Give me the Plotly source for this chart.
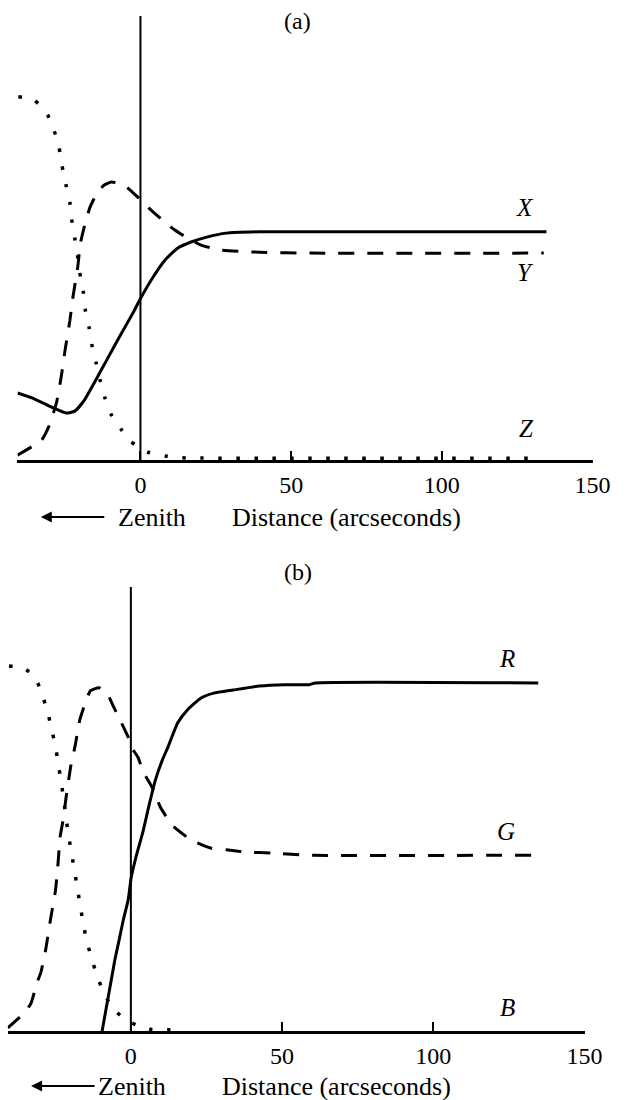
import plotly.graph_objects as go

W, H = 630, 1100

# ---------------- Panel (a) data ----------------
a_x_x = [-40.8, -36.0, -29.5, -24.7, -21.8, -18.6, -15.4, -11.2, -7.0, -2.5, 0.1, 4.0, 8.1, 12.3, 16.8, 22.0, 28.4, 39.4, 56.5, 134.7]
a_x_y = [15.1, 14.0, 11.9, 10.6, 11.0, 13.5, 17.3, 22.5, 27.7, 33.1, 36.5, 41.0, 45.0, 47.7, 49.1, 50.2, 51.1, 51.4, 51.4, 51.4]

a_y_x = [-40.8, -32.8, -30.5, -27.9, -26.3, -25.0, -23.4, -22.4, -20.8, -19.9, -18.3, -16.7, -14.4, -12.1, -9.6, -5.4, -0.9, 2.7, 7.2, 11.4, 15.6, 20.1, 26.5, 39.4, 56.5, 133.8]
a_y_y = [1.1, 4.5, 7.4, 12.8, 18.7, 24.8, 31.5, 36.7, 43.5, 48.9, 53.4, 57.0, 60.1, 61.9, 62.6, 61.9, 59.2, 56.8, 54.1, 51.8, 50.0, 48.4, 47.3, 46.8, 46.6, 46.6]

a_z_x = [-40.5, -35.3, -30.8, -28.6, -27.0, -26.0, -24.7, -23.4, -22.8, -21.8, -20.8, -19.9, -18.9, -18.3, -17.0, -16.0, -14.7, -13.4, -11.8, -9.6, -6.3, -3.1, 2.4, 8.2, 13.9, 50.0, 129.9]
a_z_y = [81.8, 81.1, 77.7, 74.1, 70.3, 66.2, 61.9, 57.9, 54.1, 50.0, 45.7, 41.2, 37.6, 33.8, 29.7, 25.5, 21.8, 18.0, 14.0, 10.1, 6.8, 4.1, 1.8, 0.9, 0.5, 0.4, 0.4]

# ---------------- Panel (b) data ----------------
b_r_x = [-9.5, -5.3, -4.1, -2.5, -0.9, 0.1, 1.7, 3.9, 5.9, 8.1, 10.4, 12.3, 15.5, 18.7, 23.2, 27.4, 33.8, 42.5, 50.9, 59.0, 61.0, 134.7]
b_r_y = [0.0, 16.0, 19.8, 25.0, 29.5, 34.5, 39.2, 44.6, 50.5, 56.5, 61.0, 64.0, 69.4, 72.3, 75.0, 76.1, 76.8, 77.7, 78.0, 78.0, 78.4, 78.4]

b_g_x = [-40.7, -35.2, -33.0, -31.1, -29.8, -28.2, -26.6, -24.9, -24.0, -23.4, -22.4, -21.4, -19.8, -18.5, -16.9, -15.3, -13.4, -10.5, -7.9, -5.7, -3.1, -0.9, 0.1, 2.3, 4.3, 7.2, 9.7, 13.6, 20.0, 26.4, 31.6, 38.0, 46.7, 58.6, 133.4]
b_g_y = [0.7, 4.1, 6.3, 10.8, 13.1, 18.2, 25.0, 31.8, 38.5, 43.7, 47.5, 52.7, 59.9, 64.0, 70.0, 73.4, 76.6, 77.3, 76.1, 73.0, 69.4, 66.2, 64.0, 61.7, 58.1, 54.7, 50.5, 46.4, 43.0, 41.2, 40.8, 40.3, 40.1, 39.6, 39.6]

b_b_x = [-40.3, -35.6, -31.7, -29.5, -27.5, -26.2, -24.9, -24.0, -23.0, -22.1, -21.4, -20.5, -19.5, -18.5, -17.6, -16.6, -15.6, -14.4, -12.8, -11.1, -8.9, -6.3, -2.5, 1.7, 6.2, 13.0, 17.8]
b_b_y = [82.2, 81.8, 79.7, 76.1, 71.8, 68.0, 64.0, 60.1, 55.9, 51.6, 47.7, 43.7, 39.6, 35.6, 31.8, 27.7, 23.6, 19.8, 16.0, 12.2, 8.6, 5.4, 2.9, 1.4, 0.4, 0.3, 0.3]

tick_vals = [0, 50, 100, 150]
tick_text = ["0", "50", "100", "150"]
labels_a = ["X", "Y", "Z"]
labels_a_pos = [(127.6, 56.8), (127.6, 42.3), (128.2, 7.2)]
labels_b = ["R", "G", "B"]
labels_b_pos = [(124.4, 84.0), (124.1, 45.0), (124.4, 5.4)]

SERIF = "Liberation Serif"
DASH = "16px,13px"
DOT = "3.5px,14.5px"

fig = go.Figure()

def add(x, y, dash, xa, ya, w=3):
    fig.add_trace(go.Scatter(x=x, y=y, mode="lines", xaxis=xa, yaxis=ya,
                             line=dict(color="black", width=w, dash=dash, shape="spline", smoothing=0.5),
                             showlegend=False, hoverinfo="skip"))

add(a_z_x, a_z_y, DOT, "x", "y", 3.5)
add(a_y_x, a_y_y, DASH, "x", "y")
add(a_x_x, a_x_y, "solid", "x", "y")
add(b_b_x, b_b_y, DOT, "x2", "y2", 3.5)
add(b_g_x, b_g_y, DASH, "x2", "y2")
add(b_r_x, b_r_y, "solid", "x2", "y2")

def px_x(p):
    return p / W

def px_y(p):
    return 1 - p / H

xcommon = dict(showline=True, linecolor="black", linewidth=2.5, ticks="inside", ticklen=9,
               tickwidth=2, tickcolor="black", tickvals=tick_vals, ticktext=tick_text,
               showgrid=False, zeroline=False, fixedrange=True,
               tickfont=dict(family=SERIF, size=24, color="black"), ticklabelstandoff=1)
ycommon = dict(visible=False, range=[0, 100], fixedrange=True, showgrid=False, zeroline=False)

fig.update_layout(
    width=W, height=H, margin=dict(l=0, r=0, t=0, b=0),
    paper_bgcolor="white", plot_bgcolor="white",
    font=dict(family=SERIF, color="black"),
    xaxis=dict(domain=[px_x(18), px_x(610)], range=[-40.8, 150], anchor="y", **xcommon),
    yaxis=dict(domain=[px_y(460), px_y(16)], anchor="x", **ycommon),
    xaxis2=dict(domain=[px_x(8), px_x(601.7)], range=[-40.7, 150], anchor="y2", **xcommon),
    yaxis2=dict(domain=[px_y(1031), px_y(587)], anchor="x2", **ycommon),
)

# vertical zero lines
for xr, yr in (("x", "y"), ("x2", "y2")):
    fig.add_shape(type="line", xref=xr, yref=yr, x0=0, x1=0, y0=0, y1=100,
                  line=dict(color="black", width=2))

# curve labels
for t, (lx, ly) in zip(labels_a, labels_a_pos):
    fig.add_annotation(x=lx, y=ly, xref="x", yref="y", text=f"<i>{t}</i>", showarrow=False,
                       xanchor="center", yanchor="middle",
                       font=dict(family=SERIF, size=25, color="black"))
for t, (lx, ly) in zip(labels_b, labels_b_pos):
    fig.add_annotation(x=lx, y=ly, xref="x2", yref="y2", text=f"<i>{t}</i>", showarrow=False,
                       xanchor="center", yanchor="middle",
                       font=dict(family=SERIF, size=25, color="black"))

# panel titles
for txt, cx, cy in (("(a)", 306, 21), ("(b)", 307, 572)):
    fig.add_annotation(x=px_x(cx), y=px_y(cy), xref="paper", yref="paper", text=txt, showarrow=False,
                       xanchor="center", yanchor="middle",
                       font=dict(family=SERIF, size=24, color="black"))

# axis titles with arrows
def axis_title(arrow_head, arrow_tail, zen_left, dist_left, ycen):
    fig.add_annotation(x=px_x(arrow_head), y=px_y(ycen), xref="paper", yref="paper",
                       ax=arrow_tail - arrow_head, ay=0, text="", showarrow=True,
                       arrowhead=2, arrowsize=1.1, arrowwidth=2, arrowcolor="black", standoff=0)
    fig.add_annotation(x=px_x(zen_left), y=px_y(ycen), xref="paper", yref="paper", text="Zenith",
                       showarrow=False, xanchor="left", yanchor="middle", borderpad=0,
                       font=dict(family=SERIF, size=26, color="black"))
    fig.add_annotation(x=px_x(dist_left), y=px_y(ycen), xref="paper", yref="paper",
                       text="Distance (arcseconds)", showarrow=False, xanchor="left", yanchor="middle",
                       borderpad=0, font=dict(family=SERIF, size=26, color="black"))

axis_title(42, 107, 120, 238, 517)
axis_title(32, 97, 100, 228, 1086)

fig.write_html("out.html")
